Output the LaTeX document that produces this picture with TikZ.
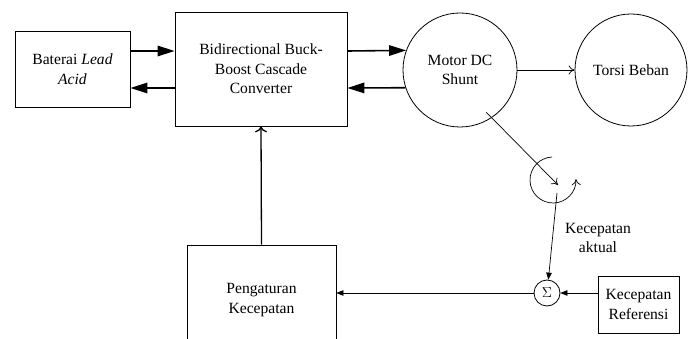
\documentclass[tikz,border=0pt]{standalone}
\usepackage{fontspec}
\setmainfont{Liberation Serif}
\usetikzlibrary{arrows.meta,calc}
\begin{document}
\begin{tikzpicture}[x=1pt,y=-1pt,
  every node/.style={font=\fontsize{15.6}{19.5}\selectfont, inner sep=0pt, align=center},
  box/.style={draw, line width=0.8pt},
  disc/.style={draw, circle, line width=0.8pt},
  thickarr/.style={line width=1.6pt, -{Triangle[length=17pt,width=10.5pt]}},
  thinarr/.style={line width=0.7pt, -{Triangle[length=7pt,width=5.5pt]}},
  openarr/.style={line width=0.7pt, -{To[length=6pt,width=9pt]}},
]
\useasboundingbox (0,0) rectangle (694,339);
\clip (0,0) rectangle (694,339);
\node[box, minimum width=115pt, minimum height=76pt] (bat) at (72.5,69) {Baterai \textit{Lead}\\\textit{Acid}};
\node[box, minimum width=172pt, minimum height=114pt] (conv) at (261,69) {Bidirectional Buck-\\Boost Cascade\\Converter};
\node[disc, minimum size=114pt] (motor) at (460,70) {Motor DC\\Shunt};
\node[disc, minimum size=112pt] (torsi) at (631,70) {Torsi Beban};
\node[disc, minimum size=26pt] (sum) at (547,293) {$\Sigma$};
\node[box, minimum width=81pt, minimum height=57pt] (ref) at (638.5,304.5) {Kecepatan\\Referensi};
\node[box, minimum width=149pt, minimum height=110pt] (peng) at (261.5,300) {Pengaturan\\Kecepatan};
\node (akt) at (598,238) {Kecepatan\\aktual};
\coordinate (dstart) at (486,112);
\coordinate (dtip) at (558,185);
\coordinate (vstart) at (557,193);
\coordinate (rc) at (553,180);
% power flow
\draw[thickarr] ([yshift=18pt]bat.east) -- ([yshift=18pt]conv.west);
\draw[thickarr] ([yshift=-19pt]conv.west) -- ([yshift=-19pt]bat.east);
\draw[thickarr] ([yshift=18pt]conv.east) -- (motor.160.5);
\draw[thickarr] (motor.198.4) -- ([yshift=-19pt]conv.east);
\draw[openarr] (motor.east) -- (torsi.west);
% speed sensing
\draw[openarr] (dstart) -- (dtip);
\draw[openarr] ($(rc)+(268:23)$) arc[start angle=268, end angle=-2, radius=23];
\draw[thinarr] (vstart) -- (sum);
\draw[thinarr] (ref.west |- sum) -- (sum.east);
\draw[thinarr] (sum.west) -- (peng.east |- sum);
\draw[line width=1.3pt, -{To[length=6pt,width=12pt]}] (peng.north) -- (conv.south);
\end{tikzpicture}
\end{document}
